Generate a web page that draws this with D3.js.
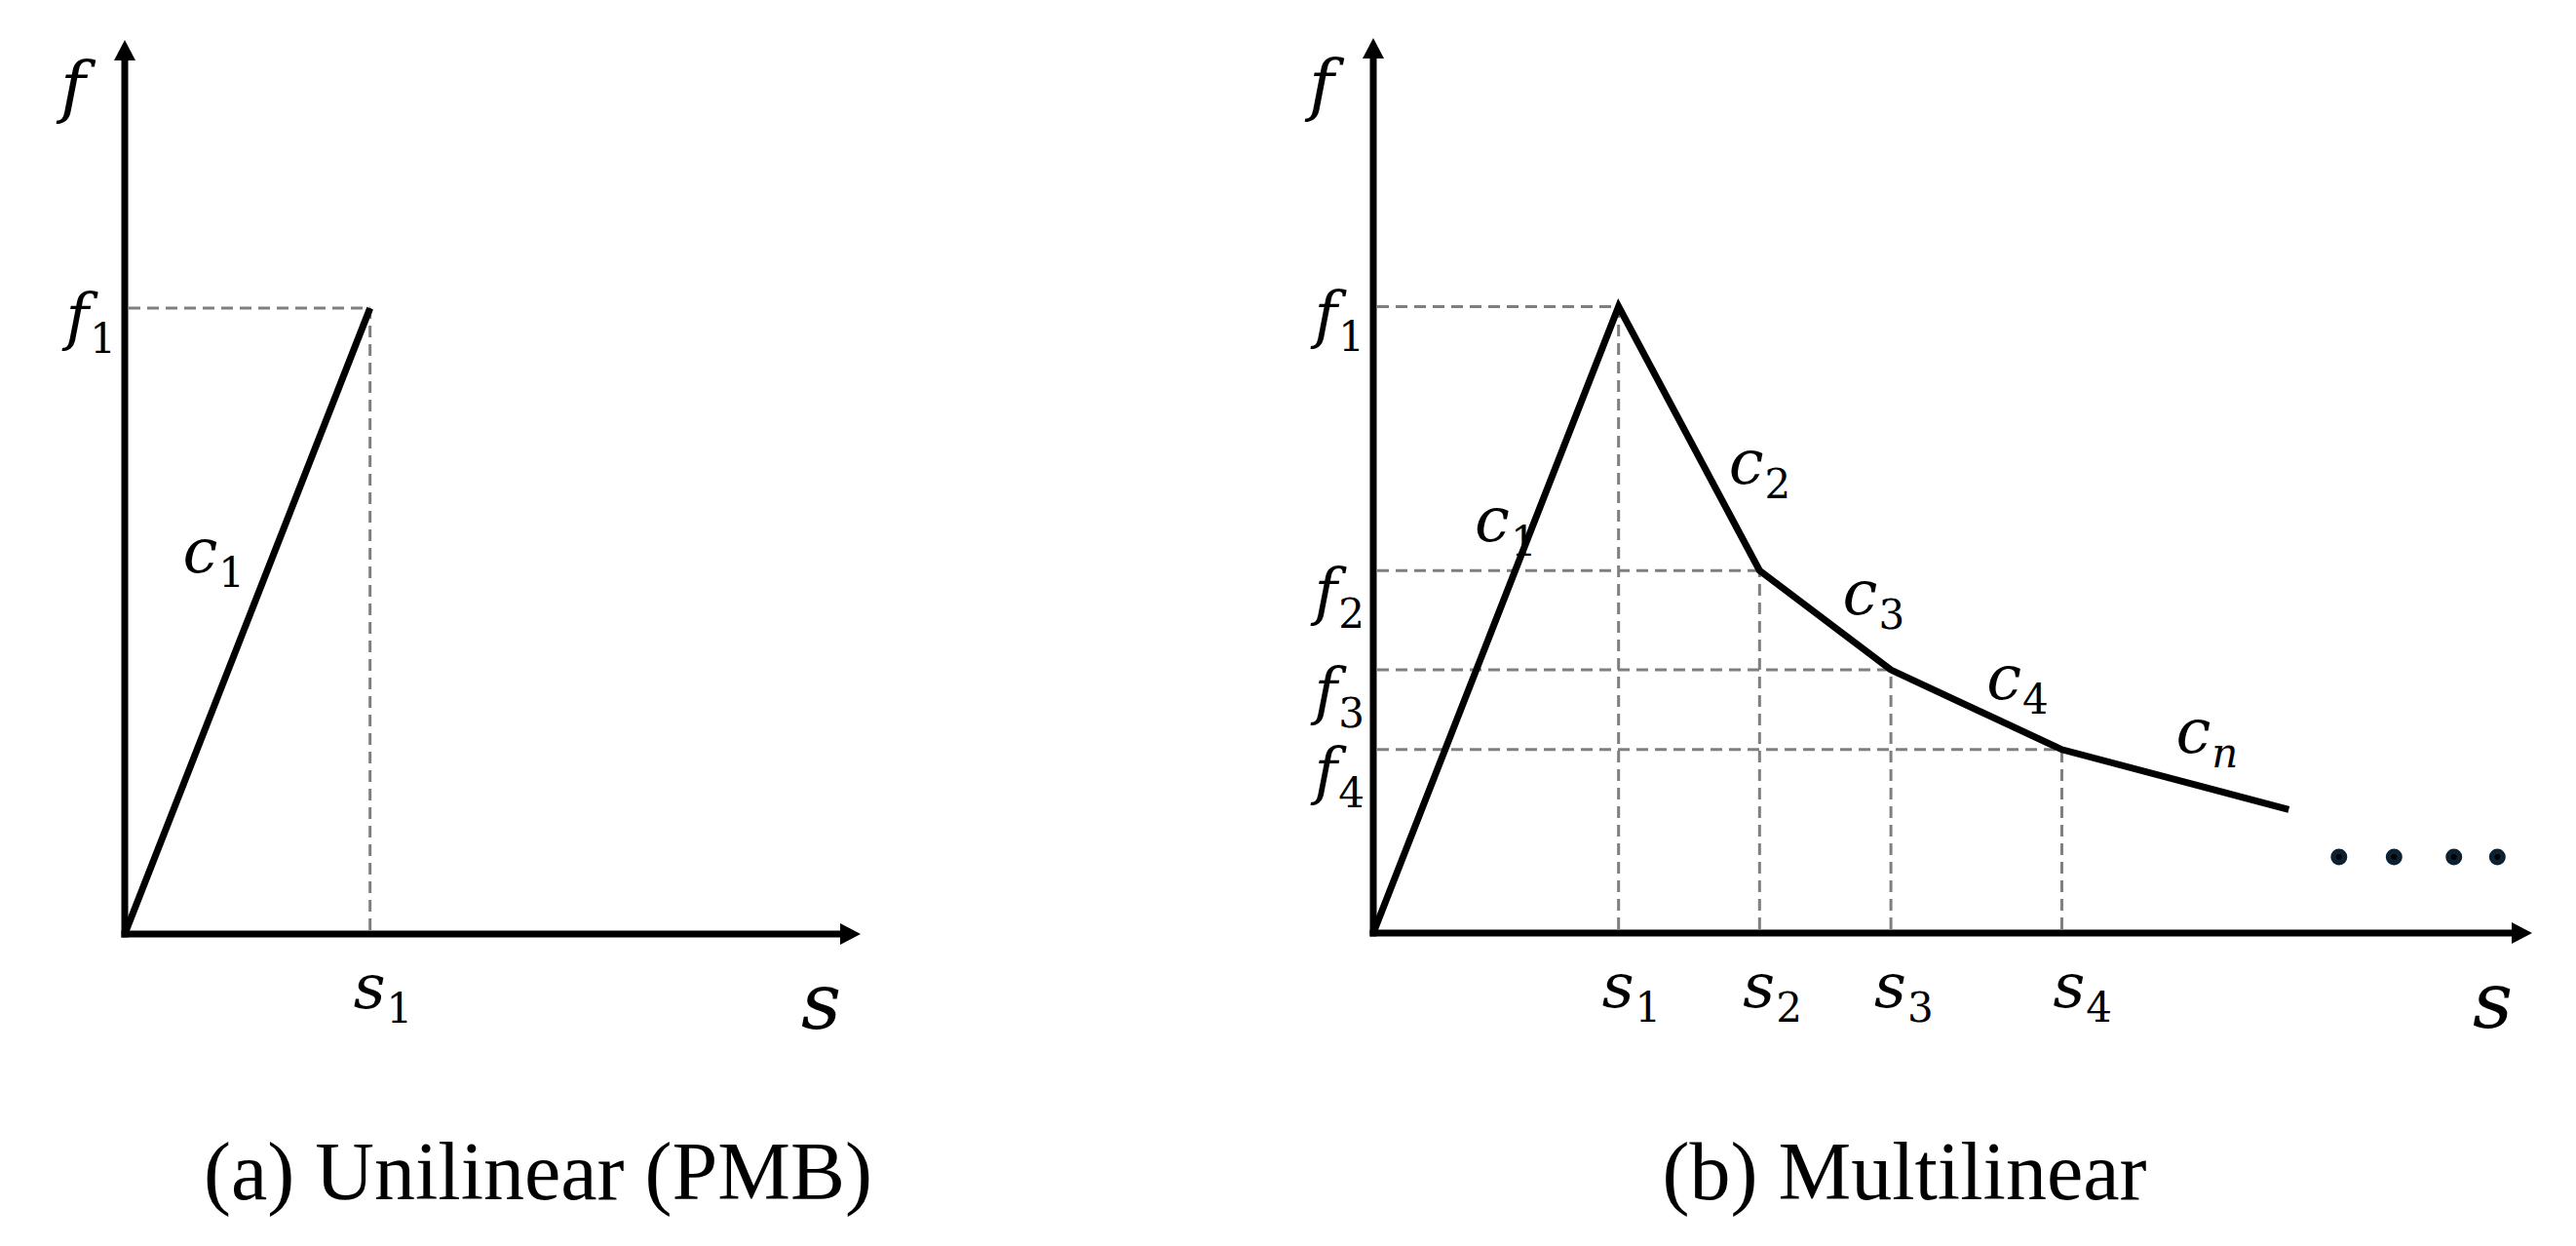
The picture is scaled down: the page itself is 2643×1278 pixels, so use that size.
<!DOCTYPE html>
<html><head><meta charset="utf-8">
<script src="https://cdn.jsdelivr.net/npm/d3@7"></script>
<style>html,body{margin:0;padding:0;background:#fff;} svg{display:block;}</style>
</head><body>
<svg id="chart" width="2643" height="1278"></svg>
<script>
// ---------- data ----------
const unilinearS = [0, 2.54];
const unilinearF = [0, 7.0];
const multilinearS = [0, 2.54, 4.0, 5.36, 7.13, 9.48];
const multilinearF = [0, 7.0, 4.05, 2.94, 2.05, 1.38];
const ellipsisS = [10.0, 10.57, 11.19, 11.64];
const ellipsisF = [0.85, 0.85, 0.85, 0.85];
const sTicksA = ["1"];
const sTicksB = ["1", "2", "3", "4"];
const fTicksA = ["1"];
const fTicksB = ["1", "2", "3", "4"];
const slopeSubsA = ["1"];
const slopeSubsB = ["1", "2", "3", "4", "n"];
const slopePosA = [[0.6, 4.05]];
const slopePosB = [[1.05, 4.38], [3.68, 5.02], [4.86, 3.56], [6.35, 2.61], [8.31, 2.02]];
const captions = ["(a) Unilinear (PMB)", "(b) Multilinear"];
const axisMaxS = [7.62, 12];
const axisMaxF = 10;

// ---------- drawing ----------
const svg = d3.select("#chart");
const MATH = "'DejaVu Serif', 'Liberation Serif', serif";
const BIG = 64, SUB = 42;

function mathLabel(g, px, py, base, sub, anchor, subItalic, size) {
  const t = g.append("text")
    .attr("x", px).attr("y", py)
    .attr("text-anchor", anchor || "start")
    .attr("font-family", MATH)
    .attr("fill", "#000");
  t.append("tspan").attr("font-style", "italic").attr("font-size", size || BIG).text(base);
  if (sub) {
    t.append("tspan").attr("font-style", subItalic ? "italic" : "normal")
      .attr("font-size", SUB).attr("dy", 15).attr("dx", 1).text(sub);
  }
  return t;
}

function panel(cfg) {
  const g = svg.append("g");
  const x = d3.scaleLinear().domain([0, cfg.xMax]).range([cfg.x0, cfg.x1]);
  const y = d3.scaleLinear().domain([0, axisMaxF]).range([cfg.y0, cfg.y1]);
  const pts = cfg.S.map((s, i) => [s, cfg.F[i]]);

  // dashed guides
  const guide = g.append("g").attr("stroke", "#7f7f7f").attr("stroke-width", 3)
    .attr("stroke-dasharray", "12,7").attr("fill", "none");
  for (let i = 1; i <= cfg.nGuides; i++) {
    const [s, f] = pts[i];
    guide.append("line").attr("x1", x(0) + 4).attr("x2", x(s)).attr("y1", y(f)).attr("y2", y(f));
    guide.append("line").attr("x1", x(s)).attr("x2", x(s)).attr("y1", y(0) - 4).attr("y2", y(f));
  }

  // curve
  g.append("path").datum(pts)
    .attr("d", d3.line().x(d => x(d[0])).y(d => y(d[1])))
    .attr("fill", "none").attr("stroke", "#000").attr("stroke-width", 7)
    .attr("stroke-linejoin", "miter");

  // axes
  const aw = 7, ah = 21, ahw = 11;
  g.append("line").attr("x1", x(0)).attr("x2", x(0)).attr("y1", y(0) + aw / 2).attr("y2", y(axisMaxF) + ah)
    .attr("stroke", "#000").attr("stroke-width", aw);
  g.append("line").attr("x1", x(0) - aw / 2).attr("x2", x(cfg.xMax) - ah).attr("y1", y(0)).attr("y2", y(0))
    .attr("stroke", "#000").attr("stroke-width", aw);
  g.append("path").attr("d", `M${x(0)},${y(axisMaxF)} L${x(0) + ahw},${y(axisMaxF) + ah} L${x(0) - ahw},${y(axisMaxF) + ah} Z`).attr("fill", "#000");
  g.append("path").attr("d", `M${x(cfg.xMax)},${y(0)} L${x(cfg.xMax) - ah},${y(0) - ahw} L${x(cfg.xMax) - ah},${y(0) + ahw} Z`).attr("fill", "#000");

  // axis titles
  mathLabel(g, x(0) - 40, y(axisMaxF) + 72, "f", null, "end", false, 70);
  mathLabel(g, x(cfg.xMax) - 20, y(0) + 97, "s", null, "end", false, 80);

  // f tick labels
  cfg.fTicks.forEach((lab, i) => {
    const f = pts[i + 1][1];
    mathLabel(g, x(0) - 9, y(f) + (i === 0 ? 31 : 44), "f", lab, "end");
  });
  // s tick labels
  cfg.sTicks.forEach((lab, i) => {
    const s = pts[i + 1][0];
    mathLabel(g, x(s) - (i === 3 ? 9 : 17), y(0) + 76, "s", lab, "start");
  });
  // slope labels
  cfg.slopeSubs.forEach((lab, i) => {
    const p = cfg.slopePos[i];
    mathLabel(g, x(p[0]), y(p[1]), "c", lab, "start", lab === "n");
  });

  // ellipsis dots
  if (cfg.dotsS) {
    const dd = cfg.dotsS.map((s, i) => [s, cfg.dotsF[i]]);
    g.selectAll("circle.dot").data(dd).enter()
      .append("circle").attr("class", "dot")
      .attr("cx", d => x(d[0])).attr("cy", d => y(d[1])).attr("r", 8.5)
      .attr("fill", "#0c2233");
    g.selectAll("circle.dotc").data(dd).enter()
      .append("circle").attr("class", "dotc")
      .attr("cx", d => x(d[0])).attr("cy", d => y(d[1])).attr("r", 3)
      .attr("fill", "#000");
  }

  // caption
  svg.append("text").attr("x", cfg.capX).attr("y", 1230).attr("text-anchor", "middle")
    .attr("font-family", "'Liberation Serif', 'Times New Roman', serif").attr("font-size", 84)
    .attr("fill", "#000").text(cfg.caption);
}

panel({
  x0: 128, x1: 883, y0: 958, y1: 41, xMax: axisMaxS[0],
  S: unilinearS, F: unilinearF, nGuides: 1,
  fTicks: fTicksA, sTicks: sTicksA, slopeSubs: slopeSubsA, slopePos: slopePosA,
  caption: captions[0], capX: 552
});
panel({
  x0: 1409, x1: 2598, y0: 957, y1: 39, xMax: axisMaxS[1],
  S: multilinearS, F: multilinearF, nGuides: 4,
  fTicks: fTicksB, sTicks: sTicksB, slopeSubs: slopeSubsB, slopePos: slopePosB,
  dotsS: ellipsisS, dotsF: ellipsisF,
  caption: captions[1], capX: 1954
});
</script>
</body></html>
